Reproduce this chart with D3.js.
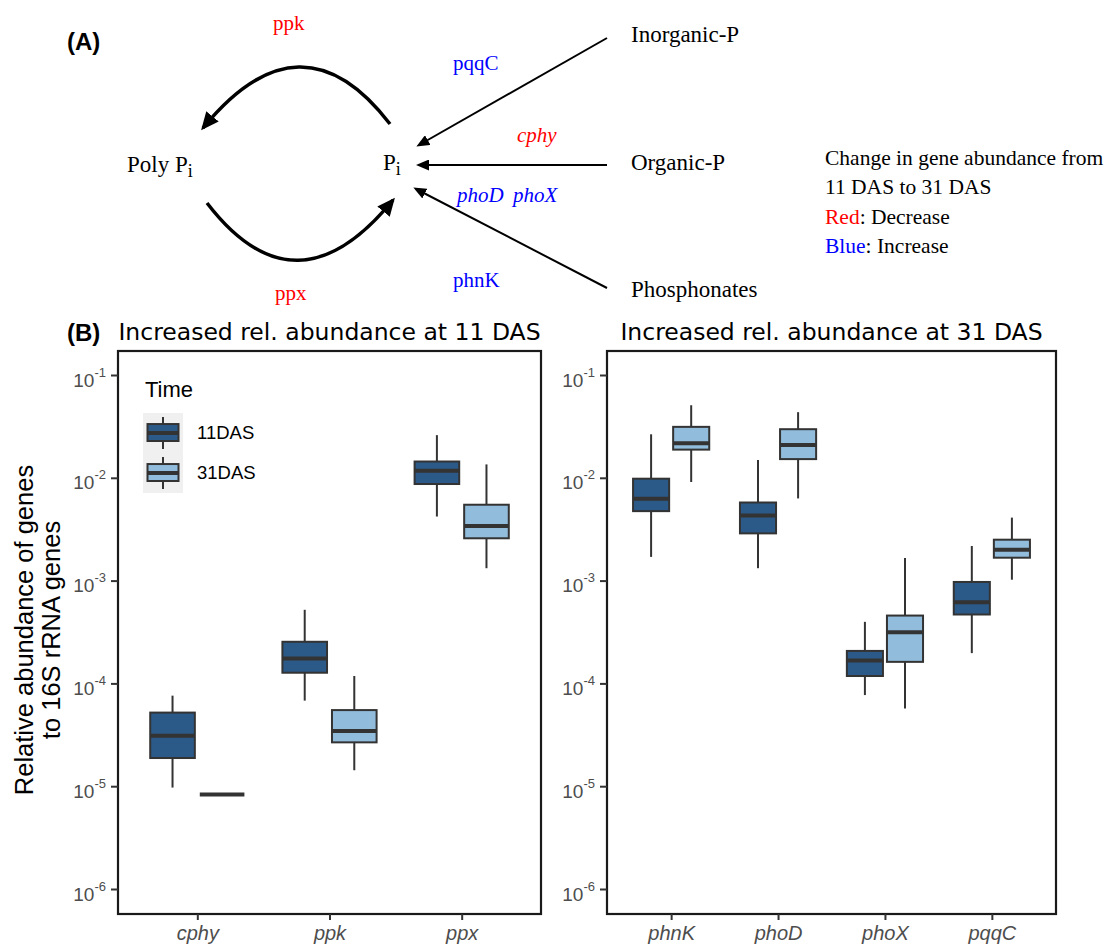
<!DOCTYPE html>
<html lang="en">
<head>
<meta charset="utf-8">
<title>Phosphorus genes</title>
<script src="https://d3js.org/d3.v7.min.js"></script>
<style>
body { margin: 0; background: #fff; }
svg { display: block; }
.serif { font-family: "Liberation Serif", "DejaVu Serif", serif; font-size: 21px; }
.sans { font-family: "Liberation Sans", Arial, sans-serif; }
</style>
</head>
<body>
<svg width="1106" height="946"></svg>
<script>

// gene groups on each panel
var leftGenes = ["cphy", "ppk", "ppx"];
var rightGenes = ["phnK", "phoD", "phoX", "pqqC"];
var times = ["11DAS", "31DAS"];

// box stats: [lower whisker, q1, median, q3, upper whisker]
var leftStats11 = [
  [9.7e-6, 1.88e-5, 3.1e-5, 5.2e-5, 7.6e-5],   // cphy
  [6.8e-5, 1.27e-4, 1.75e-4, 2.54e-4, 5.2e-4], // ppk
  [4.2e-3, 8.7e-3, 1.17e-2, 1.44e-2, 2.6e-2]   // ppx
];
var leftStats31 = [
  [8.3e-6, 8.3e-6, 8.3e-6, 8.3e-6, 8.3e-6],
  [1.43e-5, 2.67e-5, 3.44e-5, 5.5e-5, 1.18e-4],
  [1.32e-3, 2.58e-3, 3.4e-3, 5.47e-3, 1.35e-2]
];
var rightStats11 = [
  [1.7e-3, 4.74e-3, 6.25e-3, 9.8e-3, 2.65e-2],  // phnK
  [1.32e-3, 2.88e-3, 4.3e-3, 5.75e-3, 1.49e-2], // phoD
  [7.7e-5, 1.18e-4, 1.67e-4, 2.07e-4, 3.97e-4], // phoX
  [1.97e-4, 4.68e-4, 6.16e-4, 9.7e-4, 2.17e-3]  // pqqC
];
var rightStats31 = [
  [9.1e-3, 1.88e-2, 2.17e-2, 3.13e-2, 5.08e-2],
  [6.3e-3, 1.52e-2, 2.09e-2, 2.97e-2, 4.35e-2],
  [5.7e-5, 1.62e-4, 3.15e-4, 4.57e-4, 1.66e-3],
  [1.02e-3, 1.67e-3, 2.0e-3, 2.5e-3, 4.1e-3]
];
var yTicks = [1e-1, 1e-2, 1e-3, 1e-4, 1e-5, 1e-6];
var yTickExp = ["-1", "-2", "-3", "-4", "-5", "-6"];

var fillColor = {"11DAS": "#2c5a88", "31DAS": "#92bcdb"};
var lineColor = "#333333";

var svg = d3.select("svg");

// ---------- (A) diagram ----------
var defs = svg.append("defs");
function marker(id, len, half) {
  defs.append("marker")
      .attr("id", id)
      .attr("viewBox", "0 " + (-half) + " " + len + " " + (2 * half))
      .attr("refX", len - 3)
      .attr("refY", 0)
      .attr("markerUnits", "userSpaceOnUse")
      .attr("markerWidth", len)
      .attr("markerHeight", 2 * half)
      .attr("orient", "auto")
    .append("path")
      .attr("d", "M0," + (-half) + "L" + len + ",0L0," + half + "Z")
      .attr("fill", "#000");
}
marker("bigHead", 18, 8);
marker("smallHead", 13, 5.5);

var diag = svg.append("g").attr("class", "serif");

svg.append("text")
    .attr("class", "sans")
    .attr("x", 67).attr("y", 50)
    .style("font-size", "24px").style("font-weight", "bold")
    .text("(A)");

// curved arrows between Poly Pi and Pi
diag.append("path")
    .attr("d", "M390,124 Q301,8 203,128")
    .attr("fill", "none").attr("stroke", "#000").attr("stroke-width", 3.5)
    .attr("marker-end", "url(#bigHead)");
diag.append("path")
    .attr("d", "M207,203 Q296,319 393,200")
    .attr("fill", "none").attr("stroke", "#000").attr("stroke-width", 3.5)
    .attr("marker-end", "url(#bigHead)");

// straight arrows from the P sources
var sources = [
  {name: "Inorganic-P", x1: 607, y1: 38, x2: 419, y2: 145, ty: 42},
  {name: "Organic-P", x1: 607, y1: 165, x2: 419, y2: 165, ty: 170},
  {name: "Phosphonates", x1: 607, y1: 288, x2: 416, y2: 189, ty: 297}
];
diag.selectAll("line.src")
  .data(sources)
  .enter().append("line")
    .attr("class", "src")
    .attr("x1", function(d) { return d.x1; })
    .attr("y1", function(d) { return d.y1; })
    .attr("x2", function(d) { return d.x2; })
    .attr("y2", function(d) { return d.y2; })
    .attr("stroke", "#000").attr("stroke-width", 2)
    .attr("marker-end", "url(#smallHead)");
diag.selectAll("text.src")
  .data(sources)
  .enter().append("text")
    .attr("class", "src")
    .attr("x", 631).attr("y", function(d) { return d.ty; })
    .style("font-size", "23px")
    .text(function(d) { return d.name; });

function pi(x, y, prefix) {
  var t = diag.append("text").attr("x", x).attr("y", y).style("font-size", "23px");
  t.append("tspan").text(prefix + "P");
  t.append("tspan").attr("dy", 5).style("font-size", "18px").text("i");
}
pi(127, 172, "Poly ");
pi(383, 170, "");

var geneLabels = [
  {t: "ppk", x: 273, y: 30, c: "#ff0000", it: false},
  {t: "ppx", x: 275, y: 300, c: "#ff0000", it: false},
  {t: "pqqC", x: 453, y: 70, c: "#0000ff", it: false},
  {t: "cphy", x: 517, y: 142, c: "#ff0000", it: true},
  {t: "phoD", x: 457, y: 202, c: "#0000ff", it: true},
  {t: "phoX", x: 513, y: 202, c: "#0000ff", it: true},
  {t: "phnK", x: 453, y: 287, c: "#0000ff", it: false}
];
diag.selectAll("text.gene")
  .data(geneLabels)
  .enter().append("text")
    .attr("class", "gene")
    .attr("x", function(d) { return d.x; })
    .attr("y", function(d) { return d.y; })
    .attr("fill", function(d) { return d.c; })
    .style("font-style", function(d) { return d.it ? "italic" : null; })
    .text(function(d) { return d.t; });

// colour key text
var key = diag.append("g").style("font-size", "21.5px");
key.append("text").attr("x", 825).attr("y", 165).text("Change in gene abundance from");
key.append("text").attr("x", 825).attr("y", 194).text("11 DAS to 31 DAS");
var k1 = key.append("text").attr("x", 825).attr("y", 224);
k1.append("tspan").attr("fill", "#ff0000").text("Red");
k1.append("tspan").text(": Decrease");
var k2 = key.append("text").attr("x", 825).attr("y", 253);
k2.append("tspan").attr("fill", "#0000ff").text("Blue");
k2.append("tspan").text(": Increase");

// ---------- (B) box plots ----------
var panelTop = 351, panelBottom = 914;
var y = d3.scaleLog().domain([1e-6, 1e-1]).range([889, 375]);

var panels = [
  {genes: leftGenes, s11: leftStats11, s31: leftStats31, x0: 118, x1: 541,
   title: "Increased rel. abundance at 11 DAS"},
  {genes: rightGenes, s11: rightStats11, s31: rightStats31, x0: 607, x1: 1056,
   title: "Increased rel. abundance at 31 DAS"}
];

function drawBox(g, cx, w, s, fill, yf) {
  g.append("line")
      .attr("x1", cx).attr("x2", cx)
      .attr("y1", yf(s[0])).attr("y2", yf(s[4]))
      .attr("stroke", lineColor).attr("stroke-width", 2);
  g.append("rect")
      .attr("x", cx - w / 2).attr("width", w)
      .attr("y", yf(s[3])).attr("height", yf(s[1]) - yf(s[3]))
      .attr("fill", fill).attr("stroke", lineColor).attr("stroke-width", 2);
  g.append("line")
      .attr("x1", cx - w / 2).attr("x2", cx + w / 2)
      .attr("y1", yf(s[2])).attr("y2", yf(s[2]))
      .attr("stroke", lineColor).attr("stroke-width", 4);
}

panels.forEach(function(p) {
  var x = d3.scalePoint().domain(p.genes).range([p.x0, p.x1]).padding(0.6);
  var step = x.step();
  var g = svg.append("g");

  p.genes.forEach(function(gene, i) {
    drawBox(g, x(gene) - 0.1875 * step, 0.3375 * step, p.s11[i], fillColor["11DAS"], y);
    drawBox(g, x(gene) + 0.1875 * step, 0.3375 * step, p.s31[i], fillColor["31DAS"], y);
  });

  g.append("rect")
      .attr("x", p.x0).attr("y", panelTop)
      .attr("width", p.x1 - p.x0).attr("height", panelBottom - panelTop)
      .attr("fill", "none").attr("stroke", "#1a1a1a").attr("stroke-width", 2.2);

  // y axis
  var ya = svg.append("g")
      .attr("transform", "translate(" + p.x0 + ",0)")
      .call(d3.axisLeft(y).tickValues(yTicks).tickSize(7).tickPadding(5).tickFormat(""));
  ya.select(".domain").remove();
  ya.selectAll(".tick line").attr("stroke", lineColor).attr("stroke-width", 2);
  ya.selectAll(".tick text").each(function(d, i) {
    var t = d3.select(this)
        .attr("class", "sans")
        .attr("dy", 11)
        .attr("fill", "#4d4d4d")
        .style("font-size", "19px");
    t.append("tspan").text("10");
    t.append("tspan").attr("dy", -10).style("font-size", "13px").text(yTickExp[i]);
  });

  // x axis
  var xa = svg.append("g")
      .attr("transform", "translate(0," + panelBottom + ")")
      .call(d3.axisBottom(x).tickSize(6).tickPadding(8));
  xa.select(".domain").remove();
  xa.selectAll(".tick line").attr("stroke", lineColor).attr("stroke-width", 2);
  xa.selectAll(".tick text")
      .attr("class", "sans")
      .attr("dy", 0).attr("y", 26)
      .attr("fill", "#4d4d4d")
      .style("font-size", "20px").style("font-style", "italic");

  svg.append("text")
      .attr("x", (p.x0 + p.x1) / 2).attr("y", 340)
      .attr("text-anchor", "middle")
      .style("font-family", "'DejaVu Sans', Verdana, sans-serif")
      .style("font-size", "23.5px")
      .text(p.title);
});

svg.append("text")
    .attr("class", "sans")
    .attr("x", 67).attr("y", 341)
    .style("font-size", "24px").style("font-weight", "bold")
    .text("(B)");

// y axis title
var yt = svg.append("text")
    .attr("class", "sans")
    .attr("transform", "translate(0,630) rotate(-90)")
    .attr("text-anchor", "middle")
    .style("font-size", "25.5px");
yt.append("tspan").attr("x", 0).attr("y", 33).text("Relative abundance of genes");
yt.append("tspan").attr("x", 0).attr("y", 60).text("to 16S rRNA genes");

// legend
var lg = svg.append("g").attr("class", "sans");
lg.append("text").attr("x", 145).attr("y", 397).style("font-size", "22px").text("Time");
times.forEach(function(t, i) {
  var ky = d3.scaleLinear().domain([0, 1]).range([413 + 40 * i + 36, 413 + 40 * i + 4]);
  lg.append("rect")
      .attr("x", 143).attr("y", 413 + 40 * i).attr("width", 40).attr("height", 40)
      .attr("fill", "#f0f0f0");
  drawBox(lg, 163, 31, [0, 0.25, 0.5, 0.78, 1], fillColor[t], ky);
  lg.append("text")
      .attr("x", 197).attr("y", 439 + 40 * i)
      .style("font-size", "18.5px")
      .text(t);
});

</script>
</body>
</html>
